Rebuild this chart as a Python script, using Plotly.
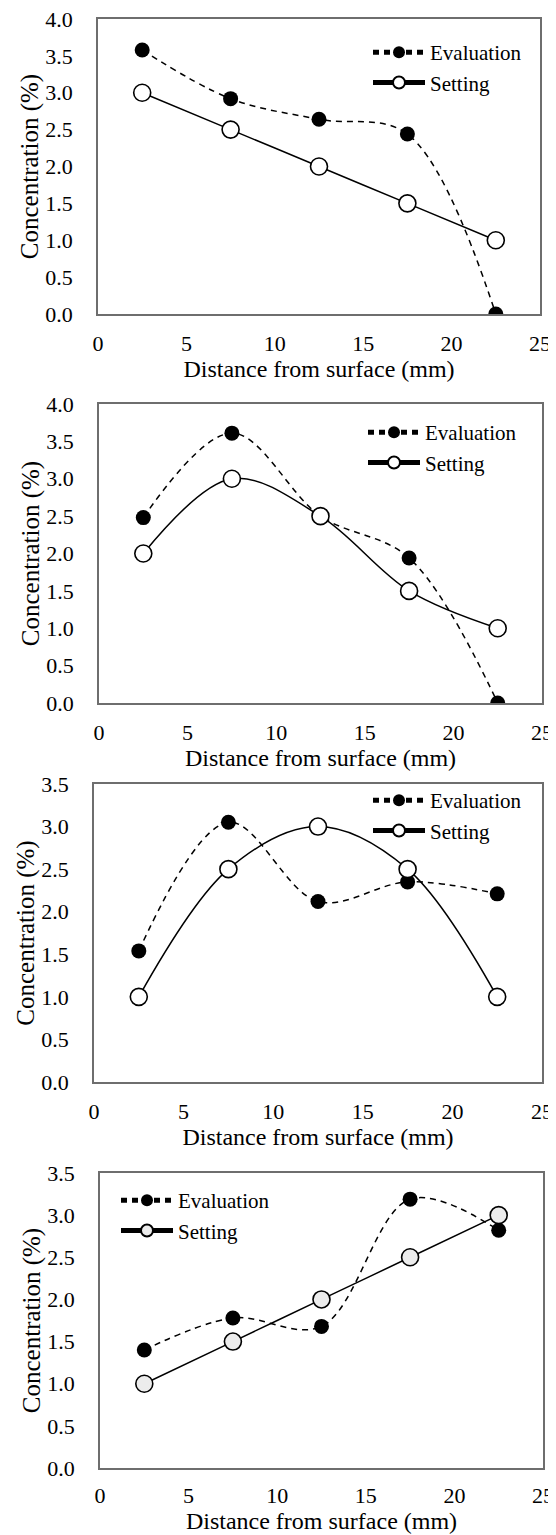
import plotly.graph_objects as go

distance = [2.5, 7.5, 12.5, 17.5, 22.5]

eval_1 = [3.58, 2.92, 2.64, 2.44, 0.0]
set_1 = [3.0, 2.5, 2.0, 1.5, 1.0]

eval_2 = [2.48, 3.61, 2.50, 1.94, 0.0]
set_2 = [2.0, 3.0, 2.5, 1.5, 1.0]

eval_3 = [1.54, 3.05, 2.12, 2.35, 2.21]
set_3 = [1.0, 2.5, 3.0, 2.5, 1.0]

eval_4 = [1.40, 1.78, 1.68, 3.19, 2.82]
set_4 = [1.0, 1.5, 2.0, 2.5, 3.0]

y_max = [4.0, 4.0, 3.5, 3.5]
x_ticks = [0, 5, 10, 15, 20, 25]

# the page body has an 8px margin; figure coordinates = page coordinates - 8
OFF = 8
W, H = 556 - OFF, 1535 - OFF
SERIF = "Liberation Serif"

# panel boxes in page pixels: left, right, top, bottom
boxes = [(98, 540, 19, 314), (99, 542, 404, 703), (94, 542, 784, 1082), (100, 543, 1173, 1468)]
x_ticklen = [9, 9, 9, 7]
# legend: text-start x and first-row centre y, in page pixels
legend_pos = [(430, 53), (425, 433), (430, 801), (178, 1201)]
setting_fill = ["white", "white", "white", "#ececec"]
ITEMW = 52

evals = [eval_1, eval_2, eval_3, eval_4]
sets = [set_1, set_2, set_3, set_4]

fig = go.Figure()
layout = dict(
    width=W, height=H,
    margin=dict(l=0, r=0, t=0, b=0),
    paper_bgcolor="white", plot_bgcolor="white",
    font=dict(family=SERIF, size=22, color="black"),
    showlegend=True,
)

for i in range(4):
    n = "" if i == 0 else str(i + 1)
    leg = "legend" if i == 0 else f"legend{i+1}"
    xa, ya = f"x{n}", f"y{n}"
    fig.add_trace(go.Scatter(
        x=distance, y=evals[i], name="Evaluation", xaxis=xa, yaxis=ya, legend=leg,
        mode="lines+markers", line=dict(color="black", width=1.5, dash="6px,5px", shape="spline"),
        marker=dict(size=15, color="black"),
        legendrank=1,
    ))
    fig.add_trace(go.Scatter(
        x=distance, y=sets[i], name="Setting", xaxis=xa, yaxis=ya, legend=leg,
        mode="lines+markers", line=dict(color="black", width=1.5, shape="spline"),
        marker=dict(size=17, color=setting_fill[i], line=dict(color="black", width=1.6)),
        legendrank=2,
    ))
    l, r, t, b = [v - OFF for v in boxes[i]]
    layout[f"xaxis{n}"] = dict(
        domain=[l / W, r / W], anchor=ya, range=[0, 25], tickvals=x_ticks,
        showline=True, mirror=True, linecolor="#6e6e6e", linewidth=1.5,
        showgrid=False, zeroline=False, ticks="outside", ticklen=x_ticklen[i],
        tickcolor="rgba(0,0,0,0)", ticklabeloverflow="allow",
        tickfont=dict(family=SERIF, size=22, color="black"), automargin=False,
        title=dict(text="Distance from surface (mm)",
                   font=dict(family=SERIF, size=24, color="black"), standoff=1),
    )
    layout[f"yaxis{n}"] = dict(
        domain=[1 - b / H, 1 - t / H], anchor=xa, range=[0, y_max[i]], dtick=0.5,
        tickformat=".1f",
        showline=True, mirror=True, linecolor="#6e6e6e", linewidth=1.5,
        showgrid=False, zeroline=False, ticks="outside", ticklen=19,
        tickcolor="rgba(0,0,0,0)", ticklabeloverflow="allow",
        tickfont=dict(family=SERIF, size=22, color="black"), automargin=False,
        title=dict(text="Concentration (%)",
                   font=dict(family=SERIF, size=25, color="black"), standoff=0),
    )
    tx, cy = legend_pos[i]
    lx = tx - OFF - (40 + ITEMW - 30)
    ly = cy - OFF - 21
    layout[leg] = dict(
        x=lx / W, y=1 - ly / H, xanchor="left", yanchor="top",
        bgcolor="rgba(0,0,0,0)", font=dict(family=SERIF, size=21, color="black"),
        tracegroupgap=0, itemwidth=ITEMW, itemsizing="constant",
    )

fig.update_layout(**layout)
fig.write_html("out.html")
